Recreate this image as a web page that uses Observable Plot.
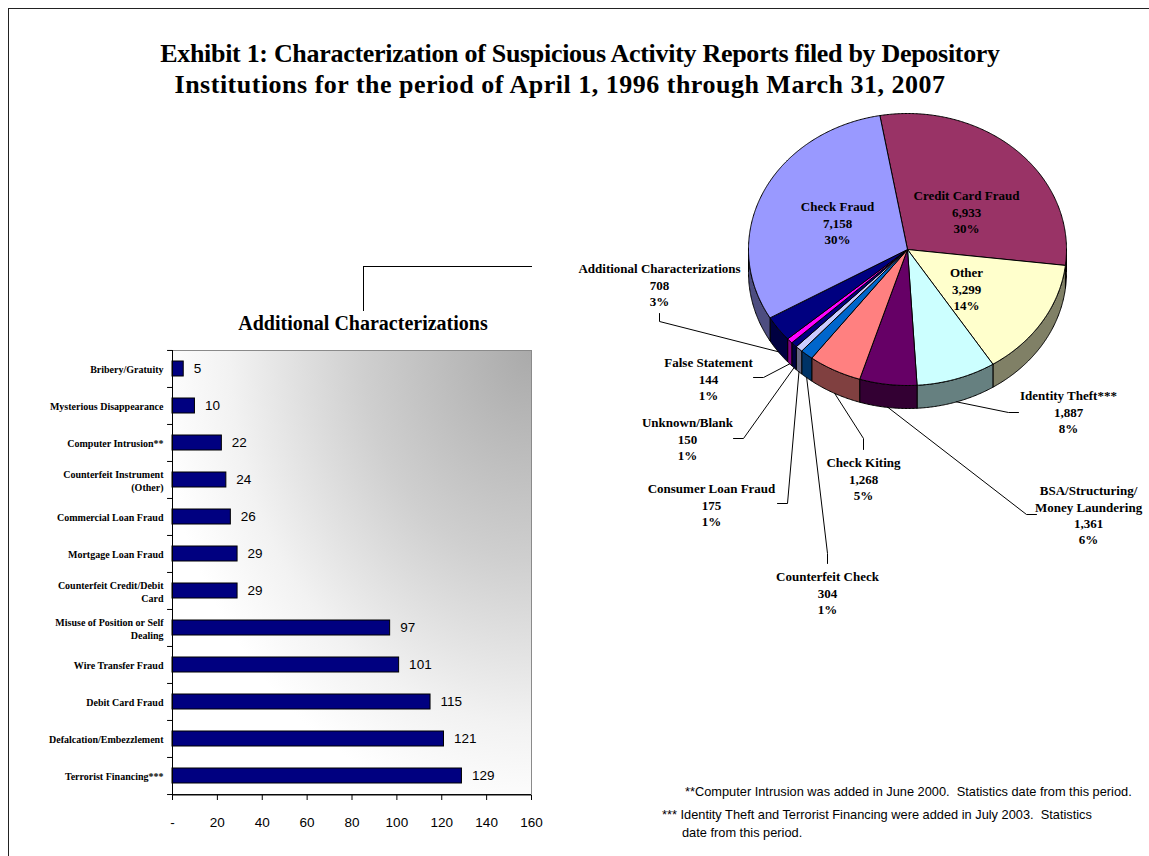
<!DOCTYPE html>
<html>
<head>
<meta charset="utf-8">
<script src="https://cdn.jsdelivr.net/npm/d3@7"></script>
<script src="https://cdn.jsdelivr.net/npm/@observablehq/plot@0.6"></script>
<style>
  body { margin: 0; background: #fff; }
  #page { position: relative; width: 1149px; height: 856px; overflow: hidden; background: #fff;
          font-family: "Liberation Serif", "Times New Roman", serif; color: #000; }
  #frame { position: absolute; left: 8px; top: 8px; width: 1200px; height: 900px;
           border-left: 1px solid #222; border-top: 1px solid #222; }
  .title { position: absolute; width: 1000px; text-align: center; white-space: nowrap;
           font-weight: bold; font-size: 26px; line-height: 31px; }
  #barTitle { position: absolute; left: 213px; width: 300px; top: 313px; text-align: center;
              font-weight: bold; font-size: 20px; line-height: 20px; white-space: nowrap; }
  #connector { position: absolute; left: 363px; top: 266px; width: 168px; height: 44px;
               border-left: 1px solid #000; border-top: 1px solid #000; }
  .note { position: absolute; font-family: "Liberation Sans", Arial, sans-serif; font-size: 12.8px;
          line-height: 18px; white-space: pre; color: #000; }
  #barChart { position: absolute; left: 8px; top: 340px; }
  #pieChart { position: absolute; left: 560px; top: 100px; }
  #barChart svg, #pieChart svg { background: transparent !important; overflow: visible; }
  #barChart g[aria-label="y-axis tick label"] { font-family: "Liberation Serif", "Times New Roman", serif; font-weight: bold; font-size: 10px; }
  #barChart g[aria-label="x-axis tick label"] { font-family: "Liberation Sans", Arial, sans-serif; font-size: 13.5px; }
</style>
</head>
<body>
<div id="page">
  <div id="frame"></div>
  <div class="title" style="left:80px; top:38px; letter-spacing:-0.3px;">Exhibit 1: Characterization of Suspicious Activity Reports filed by Depository</div>
  <div class="title" style="left:60px; top:69px; letter-spacing:0.5px;">Institutions for the period of April 1, 1996 through March 31, 2007</div>
  <div id="connector"></div>
  <div id="barTitle">Additional Characterizations</div>
  <div id="barChart"></div>
  <div id="pieChart"></div>
  <div class="note" style="left:685px; top:783px;">**Computer Intrusion was added in June 2000.  Statistics date from this period.</div>
  <div class="note" style="left:662px; top:806px;">*** Identity Theft and Terrorist Financing were added in July 2003.  Statistics</div>
  <div class="note" style="left:682px; top:824px;">date from this period.</div>
</div>
<script>
// ---------------- DATA ----------------
const barCategories = [
  "Bribery/Gratuity",
  "Mysterious Disappearance",
  "Computer Intrusion**",
  "Counterfeit Instrument\n(Other)",
  "Commercial Loan Fraud",
  "Mortgage Loan Fraud",
  "Counterfeit Credit/Debit\nCard",
  "Misuse of Position or Self\nDealing",
  "Wire Transfer Fraud",
  "Debit Card Fraud",
  "Defalcation/Embezzlement",
  "Terrorist Financing***"
];
const barValues = [5, 10, 22, 24, 26, 29, 29, 97, 101, 115, 121, 129];
const xTicks = [0, 20, 40, 60, 80, 100, 120, 140, 160];

const pieNames = [
  "Credit Card Fraud", "Other", "Identity Theft***", "BSA/Structuring/\nMoney Laundering",
  "Check Kiting", "Counterfeit Check", "Consumer Loan Fraud", "Unknown/Blank",
  "False Statement", "Additional Characterizations", "Check Fraud"
];
const pieValues = [6933, 3299, 1887, 1361, 1268, 304, 175, 150, 144, 708, 7158];
const piePercents = ["30%", "14%", "8%", "6%", "5%", "1%", "1%", "1%", "1%", "3%", "30%"];
const pieColors = ["#993366", "#FFFFCC", "#CCFFFF", "#660066", "#FF8080", "#0066CC",
                   "#CCCCFF", "#000080", "#FF00FF", "#000080", "#9999FF"];

// ---------------- LAYOUT (pixels, relative to pie centre) ----------------
const rx = 159, ry = 136, depth = 23, startDeg = -10;
const labelPos = [[59, -38], [59, 39], [161, 162], [181, 265], [-44, 229], [-80, 343],
                  [-196, 255], [-220, 189], [-199, 129], [-248, 35], [-70, -27]];
const leaderBends = [null, null,
  [[101, 163], [111, 163]],
  [[119, 265], [129, 265]],
  [[-44, 189], [-44, 200]],
  [[-80, 304], [-80, 314]],
  [[-120, 254], [-130, 254]],
  [[-164, 189], [-174, 189]],
  [[-144, 128], [-154, 128]],
  [[-248, 72], [-248, 64]],
  null];

// ---------------- BAR CHART ----------------
const barW = 543, barH = 495, mL = 164, mT = 10, mB = 40, mR = 20;
const step = (barH - mT - mB) / barCategories.length;
const barData = barCategories.map((c, i) => ({cat: c, value: barValues[i]}));
const lastCat = barCategories[barCategories.length - 1];
const serif = "Liberation Serif, Times New Roman, serif";
const sans = "Liberation Sans, Arial, sans-serif";

const bar = Plot.plot({
  width: barW, height: barH,
  marginLeft: mL, marginTop: mT, marginBottom: mB, marginRight: mR,
  x: {domain: [0, 160]},
  y: {domain: barCategories, paddingInner: 0.59, paddingOuter: 0.295},
  marks: [
    Plot.frame({fill: "url(#bggrad)", stroke: "#8a8a8a"}),
    Plot.barX(barData, {y: "cat", x: "value", fill: "#000080", stroke: "#000", strokeWidth: 1}),
    Plot.text(barData, {y: "cat", x: "value", text: d => String(d.value), dx: 10,
      textAnchor: "start", fontSize: 13.5, fontFamily: sans, fill: "#000"}),
    Plot.ruleX([0], {stroke: "#000"}),
    Plot.ruleY([lastCat], {x1: 0, x2: 160, dy: step / 2, stroke: "#000"}),
    Plot.ruleY(barCategories, {x1: -2.2, x2: 0, dy: -step / 2, stroke: "#000"}),
    Plot.ruleY([lastCat], {x1: -2.2, x2: 0, dy: step / 2, stroke: "#000"}),
    Plot.axisY({tickSize: 0, tickPadding: 9, fontSize: 10, fontWeight: "bold",
      fontFamily: serif, lineHeight: 1.33, label: null}),
    Plot.axisX({ticks: xTicks, tickSize: 5, tickPadding: 17, fontSize: 13.5, fontFamily: sans,
      tickFormat: d => d === 0 ? "-" : String(d), label: null})
  ]
});
// gradient background of the plot area
{
  const ns = "http://www.w3.org/2000/svg";
  const defs = document.createElementNS(ns, "defs");
  const g = document.createElementNS(ns, "radialGradient");
  g.setAttribute("id", "bggrad");
  g.setAttribute("cx", "1"); g.setAttribute("cy", "0"); g.setAttribute("r", "1.05");
  g.setAttribute("fx", "1"); g.setAttribute("fy", "0");
  [["0", "#aaaaaa"], ["0.45", "#cfcfcf"], ["0.8", "#f2f2f2"], ["1", "#ffffff"]].forEach(([o, c]) => {
    const s = document.createElementNS(ns, "stop");
    s.setAttribute("offset", o); s.setAttribute("stop-color", c);
    g.appendChild(s);
  });
  defs.appendChild(g);
  bar.insertBefore(defs, bar.firstChild);
}
document.getElementById("barChart").appendChild(bar);

// ---------------- PIE CHART ----------------
const total = d3.sum(pieValues);
let acc = startDeg;
const slices = pieNames.map((name, i) => {
  const a0 = acc, a1 = acc + 360 * pieValues[i] / total;
  acc = a1;
  return {name, i, a0, a1, mid: (a0 + a1) / 2};
});
const pt = (deg, dy = 0) => {
  const r = deg * Math.PI / 180;
  return [rx * Math.sin(r), -ry * Math.cos(r) + dy];
};
const arc = (a, b, dy) => {
  const n = Math.max(2, Math.ceil(Math.abs(b - a) / 0.5));
  return d3.range(n + 1).map(k => pt(a + (b - a) * k / n, dy));
};
const darker = c => { const q = d3.rgb(c); return d3.rgb(q.r * 0.5, q.g * 0.5, q.b * 0.5).formatHex(); };

const topData = [], sideData = [], leaderData = [], labelData = [];
slices.forEach(s => {
  const pts = [[0, 0], ...arc(s.a0, s.a1, 0), [0, 0]];
  pts.forEach(([x, y]) => topData.push({id: s.name, x, y, fill: pieColors[s.i]}));
  const lo = Math.max(s.a0, 90), hi = Math.min(s.a1, 270);
  if (lo < hi) {
    const sp = [...arc(lo, hi, 0), ...arc(hi, lo, depth)];
    sp.push(sp[0]);
    sp.forEach(([x, y]) => sideData.push({id: s.name, x, y, fill: darker(pieColors[s.i])}));
  }
  if (leaderBends[s.i]) {
    const st = pt(s.mid, depth);
    [st, ...leaderBends[s.i]].forEach(([x, y]) => leaderData.push({id: s.name, x, y}));
  }
  labelData.push({
    x: labelPos[s.i][0], y: labelPos[s.i][1],
    text: s.name + "\n" + d3.format(",")(pieValues[s.i]) + "\n" + piePercents[s.i]
  });
});

const pieW = 589, pieH = 540, pcx = 347, pcy = 149;
const pie = Plot.plot({
  width: pieW, height: pieH, margin: 0,
  x: {domain: [-pcx, pieW - pcx], range: [0, pieW], axis: null},
  y: {domain: [-pcy, pieH - pcy], range: [0, pieH], axis: null},
  color: {type: "identity"},
  marks: [
    Plot.line(sideData, {x: "x", y: "y", z: "id", fill: "fill", stroke: "#000", strokeWidth: 1, curve: "linear"}),
    Plot.line(topData, {x: "x", y: "y", z: "id", fill: "fill", stroke: "#000", strokeWidth: 1, curve: "linear"}),
    Plot.line(leaderData, {x: "x", y: "y", z: "id", stroke: "#000", strokeWidth: 1, curve: "linear"}),
    Plot.text(labelData, {x: "x", y: "y", text: "text", fontSize: 13, fontWeight: "bold",
      fontFamily: serif, lineHeight: 1.25, fill: "#000"})
  ]
});
document.getElementById("pieChart").appendChild(pie);
</script>
</body>
</html>
